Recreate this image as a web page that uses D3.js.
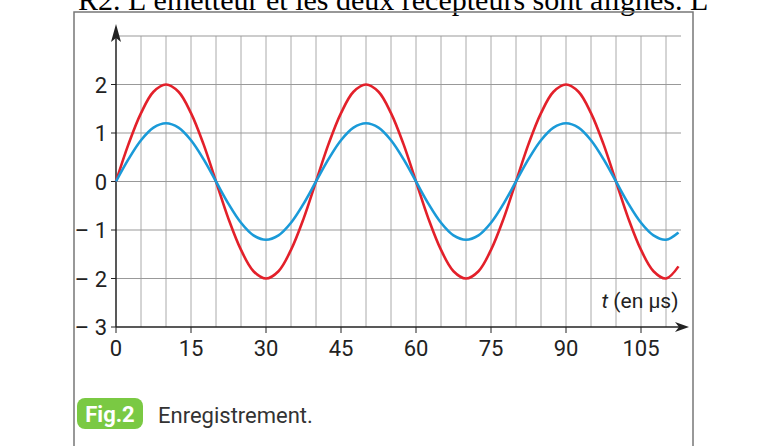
<!DOCTYPE html><html><head><meta charset="utf-8"><script src="https://cdn.jsdelivr.net/npm/d3@7"></script>
<style>body{margin:0;background:#fff}</style></head><body><svg id="c" width="780" height="446"></svg>
<script>
const times = [0,2.5,5,7.5,10,12.5,15,17.5,20,22.5,25,27.5,30,32.5,35,37.5,40,42.5,45,47.5,50,52.5,55,57.5,60,62.5,65,67.5,70,72.5,75,77.5,80,82.5,85,87.5,90,92.5,95,97.5,100,102.5,105,107.5,110,112.5];
const redValues = [0,0.77,1.41,1.85,2,1.85,1.41,0.77,0,-0.77,-1.41,-1.85,-2,-1.85,-1.41,-0.77,0,0.77,1.41,1.85,2,1.85,1.41,0.77,0,-0.77,-1.41,-1.85,-2,-1.85,-1.41,-0.77,0,0.77,1.41,1.85,2,1.85,1.41,0.77,0,-0.77,-1.41,-1.85,-2,-1.75];
const blueValues = [0,0.46,0.85,1.11,1.2,1.11,0.85,0.46,0,-0.46,-0.85,-1.11,-1.2,-1.11,-0.85,-0.46,0,0.46,0.85,1.11,1.2,1.11,0.85,0.46,0,-0.46,-0.85,-1.11,-1.2,-1.11,-0.85,-0.46,0,0.46,0.85,1.11,1.2,1.11,0.85,0.46,0,-0.46,-0.85,-1.11,-1.2,-1.05];
const xTicks = [0,15,30,45,60,75,90,105];
const yTicks = [2,1,0,-1,-2,-3];
const yTickLabels = ["2","1","0","– 1","– 2","– 3"];

const svg = d3.select("#c");
const x = d3.scaleLinear().domain([0,113]).range([116,681]);
const y = d3.scaleLinear().domain([-3,3]).range([327,36]);

svg.append("text").attr("x",78).attr("y",10).attr("font-family","Liberation Serif").attr("font-size",30).attr("fill","#000")
 .text("R2. L’émetteur et les deux récepteurs sont alignés. L");
svg.append("rect").attr("x",74).attr("y",12).attr("width",619).attr("height",450).attr("fill","none").attr("stroke","#777").attr("stroke-width",1.5);

const g = svg.append("g");
g.selectAll(".vg").data(d3.range(5,115,5)).join("line").attr("x1",d=>x(d)).attr("x2",d=>x(d)).attr("y1",y(3)).attr("y2",y(-3)).attr("stroke","#aaa").attr("stroke-width",1);
g.selectAll(".hg").data([3,2,1,0,-1,-2]).join("line").attr("x1",x(0)).attr("x2",x(113)).attr("y1",d=>y(d)).attr("y2",d=>y(d)).attr("stroke","#999").attr("stroke-width",1);

const font = "Roboto";
g.append("line").attr("x1",x(0)).attr("x2",x(0)).attr("y1",y(-3)).attr("y2",y(3)-8).attr("stroke","#222").attr("stroke-width",1.5);
g.append("path").attr("d",`M${x(0)-5},${y(3)+6} L${x(0)},${y(3)-12} L${x(0)+5},${y(3)+6} L${x(0)},${y(3)+2}Z`).attr("fill","#222");
g.selectAll(".yt").data(yTicks).join("line").attr("x1",x(0)-5).attr("x2",x(0)).attr("y1",d=>y(d)).attr("y2",d=>y(d)).attr("stroke","#222");
g.selectAll(".yl").data(yTicks).join("text").attr("x",x(0)-9).attr("y",d=>y(d)+8).attr("text-anchor","end").attr("font-family",font).attr("font-size",22).attr("fill","#222").text((d,i)=>yTickLabels[i]);
g.append("line").attr("x1",x(0)).attr("x2",x(113)).attr("y1",y(-3)).attr("y2",y(-3)).attr("stroke","#222").attr("stroke-width",1.5);
g.append("path").attr("d",`M${x(113)-6},${y(-3)-5} L${x(113)+8},${y(-3)} L${x(113)-6},${y(-3)+5} L${x(113)-2},${y(-3)}Z`).attr("fill","#222");
g.selectAll(".xt").data(xTicks).join("line").attr("x1",d=>x(d)).attr("x2",d=>x(d)).attr("y1",y(-3)).attr("y2",y(-3)+6).attr("stroke","#222");
g.selectAll(".xl").data(xTicks).join("text").attr("x",d=>x(d)).attr("y",y(-3)+29).attr("text-anchor","middle").attr("font-family",font).attr("font-size",22).attr("fill","#222").text(d=>d);
const lab = g.append("text").attr("x",x(112.5)).attr("y",y(-2.6)).attr("text-anchor","end").attr("font-family",font).attr("font-size",21).attr("fill","#222");
lab.append("tspan").attr("font-style","italic").text("t");
lab.append("tspan").text(" (en µs)");

const line = d3.line().x((d,i)=>x(times[i])).y(d=>y(d)).curve(d3.curveCatmullRom);
g.append("path").datum(redValues).attr("d",line).attr("fill","none").attr("stroke","#e3202a").attr("stroke-width",2.6);
g.append("path").datum(blueValues).attr("d",line).attr("fill","none").attr("stroke","#1a9ad8").attr("stroke-width",2.6);

svg.append("rect").attr("x",77).attr("y",398).attr("width",66).attr("height",31).attr("rx",8).attr("fill","#7ac943");
svg.append("text").attr("x",110).attr("y",422).attr("text-anchor","middle").attr("font-family",font).attr("font-weight","bold").attr("font-size",22).attr("fill","#fff").text("Fig.2");
svg.append("text").attr("x",158).attr("y",423).attr("font-family",font).attr("font-size",22).attr("fill","#333").text("Enregistrement.");
</script></body></html>
